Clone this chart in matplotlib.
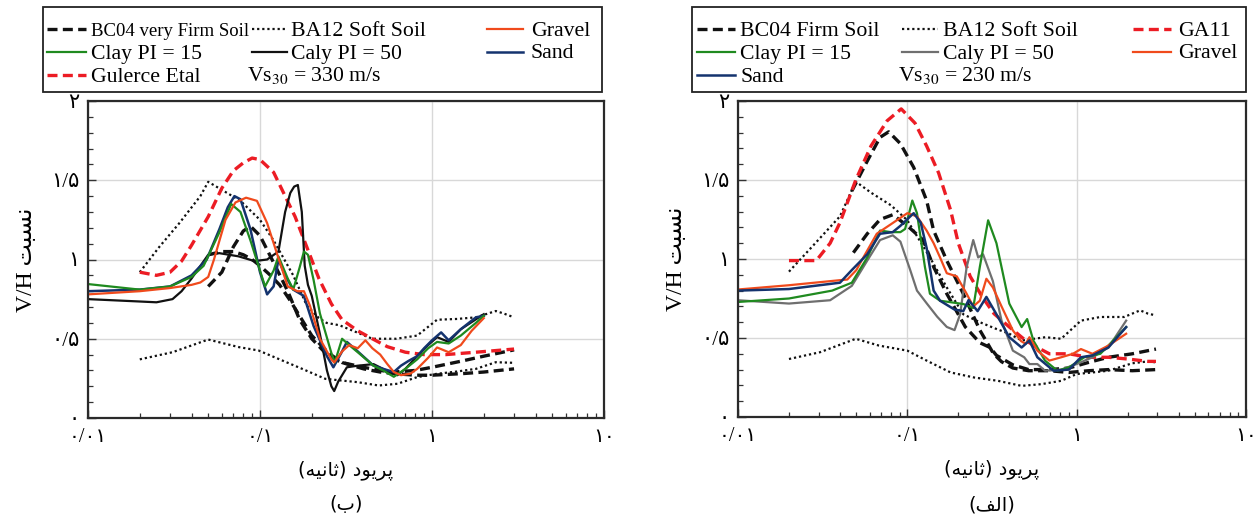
import re
import matplotlib
matplotlib.use("Agg")
import matplotlib.pyplot as plt
from matplotlib.lines import Line2D
from matplotlib.patches import Rectangle
from matplotlib.ticker import FixedLocator, FixedFormatter, LogLocator, NullFormatter, MultipleLocator

# ---------------- data : left panel (ب) Vs30 = 330 m/s ----------------
L_gul_T = [0.02, 0.025, 0.03, 0.035, 0.04, 0.05, 0.06, 0.07, 0.08, 0.09, 0.1, 0.12, 0.14, 0.16, 0.19, 0.22, 0.26, 0.3, 0.37, 0.45, 0.55, 0.7, 0.9, 1.2, 1.8, 3.0]
L_gul_V = [0.92, 0.90, 0.92, 0.99, 1.09, 1.27, 1.45, 1.56, 1.61, 1.64, 1.63, 1.55, 1.40, 1.27, 1.06, 0.88, 0.72, 0.62, 0.55, 0.50, 0.45, 0.415, 0.40, 0.40, 0.415, 0.435]

L_ba_hi_T = [0.02, 0.026, 0.034, 0.045, 0.05, 0.077, 0.1, 0.12, 0.156, 0.187, 0.22, 0.244, 0.29, 0.33, 0.45, 0.62, 0.82, 1.07, 1.4, 1.8, 2.35, 2.6, 3.0]
L_ba_hi_V = [0.92, 1.08, 1.23, 1.40, 1.49, 1.37, 1.25, 1.12, 0.90, 0.71, 0.63, 0.60, 0.585, 0.56, 0.50, 0.50, 0.52, 0.62, 0.625, 0.635, 0.675, 0.66, 0.635]
L_ba_lo_T = [0.02, 0.031, 0.05, 0.0755, 0.098, 0.128, 0.176, 0.24, 0.37, 0.49, 0.63, 0.82, 1.07, 1.39, 1.8, 2.35, 3.0]
L_ba_lo_V = [0.37, 0.415, 0.495, 0.447, 0.426, 0.373, 0.31, 0.247, 0.226, 0.205, 0.216, 0.258, 0.279, 0.293, 0.31, 0.352, 0.348]

L_bc_a_T = [0.05, 0.06, 0.07, 0.08, 0.088, 0.1, 0.12, 0.145, 0.17, 0.2, 0.25, 0.3, 0.4, 0.5, 0.6, 0.8, 1.0, 1.5, 2.0, 3.0]
L_bc_a_V = [0.83, 0.92, 1.08, 1.18, 1.21, 1.15, 0.98, 0.80, 0.62, 0.50, 0.39, 0.35, 0.32, 0.30, 0.29, 0.30, 0.32, 0.36, 0.39, 0.43]
L_bc_b_T = [0.05, 0.06, 0.07, 0.08, 0.09, 0.1, 0.115, 0.13, 0.15, 0.18, 0.2, 0.25, 0.3, 0.4, 0.5, 0.6, 0.8, 1.0, 1.5, 2.0, 3.0]
L_bc_b_V = [1.03, 1.05, 1.05, 1.03, 1.0, 0.96, 0.90, 0.84, 0.74, 0.60, 0.52, 0.41, 0.35, 0.31, 0.29, 0.28, 0.27, 0.27, 0.28, 0.29, 0.31]

L_grav_T = [0.01, 0.02, 0.03, 0.04, 0.045, 0.05, 0.054, 0.063, 0.072, 0.083, 0.096, 0.11, 0.127, 0.145, 0.165, 0.18, 0.195, 0.223, 0.26, 0.27, 0.3, 0.33, 0.37, 0.41, 0.45, 0.5, 0.55, 0.6, 0.66, 0.75, 0.82, 0.95, 1.07, 1.25, 1.47, 1.7, 2.0]
L_grav_V = [0.78, 0.80, 0.82, 0.84, 0.855, 0.89, 1.0, 1.25, 1.36, 1.39, 1.37, 1.23, 1.02, 0.83, 0.80, 0.80, 0.71, 0.50, 0.37, 0.35, 0.42, 0.46, 0.44, 0.49, 0.44, 0.40, 0.34, 0.29, 0.27, 0.28, 0.31, 0.38, 0.445, 0.415, 0.46, 0.55, 0.63]

L_sand_T = [0.01, 0.02, 0.03, 0.04, 0.049, 0.058, 0.065, 0.071, 0.077, 0.088, 0.1, 0.11, 0.12, 0.128, 0.14, 0.156, 0.18, 0.205, 0.245, 0.267, 0.3, 0.32, 0.37, 0.457, 0.52, 0.6, 0.66, 0.73, 0.82, 0.9, 1.0, 1.13, 1.25, 1.47, 1.8, 2.0]
L_sand_V = [0.80, 0.81, 0.83, 0.90, 1.0, 1.19, 1.33, 1.40, 1.38, 1.19, 0.92, 0.78, 0.83, 1.0, 0.90, 0.81, 0.77, 0.58, 0.39, 0.32, 0.42, 0.48, 0.42, 0.33, 0.31, 0.29, 0.33, 0.36, 0.39, 0.44, 0.49, 0.54, 0.49, 0.56, 0.635, 0.645]

L_clay15_T = [0.01, 0.02, 0.03, 0.04, 0.047, 0.058, 0.068, 0.077, 0.088, 0.1, 0.107, 0.12, 0.128, 0.145, 0.156, 0.17, 0.18, 0.19, 0.205, 0.223, 0.26, 0.272, 0.3, 0.33, 0.37, 0.457, 0.52, 0.6, 0.7, 0.82, 0.95, 1.07, 1.25, 1.47, 1.8, 2.0]
L_clay15_V = [0.845, 0.81, 0.83, 0.89, 0.96, 1.17, 1.35, 1.30, 1.12, 0.93, 0.83, 0.93, 1.02, 0.88, 0.81, 0.95, 1.05, 1.03, 0.87, 0.66, 0.41, 0.35, 0.50, 0.46, 0.415, 0.33, 0.30, 0.26, 0.31, 0.37, 0.44, 0.48, 0.47, 0.52, 0.60, 0.645]

L_clay50_T = [0.01, 0.02, 0.025, 0.031, 0.035, 0.04, 0.05, 0.058, 0.075, 0.093, 0.11, 0.128, 0.14, 0.15, 0.158, 0.166, 0.175, 0.182, 0.19, 0.2, 0.223, 0.245, 0.26, 0.27, 0.285, 0.32, 0.37, 0.457, 0.565, 0.63, 0.7, 0.82, 0.95, 1.07, 1.25, 1.47, 2.0]
L_clay50_V = [0.75, 0.735, 0.73, 0.75, 0.80, 0.88, 1.03, 1.04, 1.02, 0.99, 1.0, 1.05, 1.30, 1.42, 1.46, 1.47, 1.30, 0.96, 0.84, 0.77, 0.53, 0.30, 0.20, 0.17, 0.23, 0.32, 0.33, 0.34, 0.29, 0.27, 0.31, 0.39, 0.46, 0.51, 0.48, 0.56, 0.655]

# ---------------- data : right panel (الف) Vs30 = 230 m/s ----------------
R_ga_T = [0.02, 0.029, 0.035, 0.04, 0.0496, 0.061, 0.076, 0.092, 0.111, 0.13, 0.153, 0.18, 0.2, 0.235, 0.277, 0.325, 0.4, 0.5, 0.586, 0.69, 0.9, 1.18, 1.54, 2.0, 2.64, 2.94]
R_ga_V = [0.99, 0.99, 1.10, 1.23, 1.50, 1.715, 1.875, 1.95, 1.86, 1.715, 1.545, 1.31, 1.10, 0.89, 0.76, 0.654, 0.57, 0.484, 0.44, 0.40, 0.40, 0.378, 0.378, 0.367, 0.352, 0.352]

R_ba_hi_T = [0.02, 0.0275, 0.04, 0.0496, 0.061, 0.08, 0.1, 0.136, 0.171, 0.214, 0.268, 0.336, 0.40, 0.473, 0.653, 0.81, 1.06, 1.38, 1.91, 2.37, 2.64, 2.94]
R_ba_hi_V = [0.92, 1.08, 1.27, 1.49, 1.42, 1.34, 1.245, 1.01, 0.82, 0.65, 0.60, 0.557, 0.527, 0.484, 0.505, 0.495, 0.61, 0.633, 0.633, 0.675, 0.654, 0.643]
R_ba_lo_T = [0.02, 0.0305, 0.0496, 0.068, 0.1, 0.13, 0.18, 0.248, 0.343, 0.473, 0.62, 0.81, 1.0, 1.24, 1.54, 2.13, 2.64, 2.94]
R_ba_lo_V = [0.367, 0.41, 0.495, 0.452, 0.42, 0.357, 0.282, 0.25, 0.229, 0.197, 0.208, 0.229, 0.272, 0.282, 0.293, 0.34, 0.352, 0.346]

R_bc_a_T = [0.047, 0.058, 0.069, 0.0776, 0.091, 0.109, 0.13, 0.143, 0.171, 0.214, 0.268, 0.323, 0.36, 0.42, 0.52, 0.69, 0.9, 1.18, 1.54, 2.13, 2.94]
R_bc_a_V = [1.43, 1.62, 1.77, 1.805, 1.73, 1.58, 1.37, 1.18, 0.99, 0.78, 0.55, 0.40, 0.35, 0.31, 0.293, 0.293, 0.282, 0.293, 0.30, 0.293, 0.30]
R_bc_b_T = [0.048, 0.058, 0.069, 0.082, 0.1, 0.124, 0.143, 0.171, 0.22, 0.268, 0.308, 0.336, 0.42, 0.52, 0.69, 0.9, 1.18, 1.54, 2.13, 2.94]
R_bc_b_V = [1.04, 1.16, 1.25, 1.28, 1.21, 1.12, 0.95, 0.78, 0.57, 0.47, 0.44, 0.39, 0.33, 0.30, 0.30, 0.31, 0.346, 0.378, 0.40, 0.43]

R_grav_T = [0.01, 0.02, 0.04, 0.0442, 0.05, 0.055, 0.066, 0.08, 0.1, 0.114, 0.13, 0.143, 0.156, 0.171, 0.196, 0.224, 0.245, 0.268, 0.293, 0.32, 0.36, 0.42, 0.47, 0.5, 0.526, 0.586, 0.69, 0.81, 0.95, 1.06, 1.24, 1.54, 1.96]
R_grav_V = [0.807, 0.834, 0.866, 0.87, 0.93, 1.01, 1.16, 1.22, 1.29, 1.27, 1.18, 1.10, 1.01, 0.91, 0.89, 0.78, 0.70, 0.736, 0.875, 0.82, 0.70, 0.548, 0.48, 0.463, 0.505, 0.42, 0.357, 0.378, 0.40, 0.43, 0.40, 0.452, 0.527]

R_sand_T = [0.01, 0.02, 0.04, 0.047, 0.058, 0.069, 0.082, 0.091, 0.109, 0.12, 0.13, 0.143, 0.156, 0.19, 0.214, 0.23, 0.26, 0.293, 0.336, 0.40, 0.473, 0.526, 0.586, 0.73, 0.9, 1.06, 1.24, 1.54, 1.96]
R_sand_V = [0.80, 0.81, 0.85, 0.93, 1.03, 1.16, 1.17, 1.21, 1.29, 1.23, 1.07, 0.80, 0.736, 0.68, 0.67, 0.74, 0.67, 0.76, 0.65, 0.505, 0.44, 0.484, 0.378, 0.293, 0.30, 0.378, 0.39, 0.44, 0.569]

R_clay15_T = [0.01, 0.02, 0.036, 0.047, 0.058, 0.069, 0.08, 0.091, 0.097, 0.107, 0.114, 0.127, 0.136, 0.156, 0.214, 0.245, 0.268, 0.3, 0.336, 0.40, 0.473, 0.51, 0.555, 0.65, 0.77, 0.9, 1.11, 1.38, 1.96]
R_clay15_V = [0.728, 0.75, 0.80, 0.85, 1.01, 1.18, 1.17, 1.17, 1.19, 1.37, 1.29, 0.95, 0.78, 0.736, 0.715, 0.69, 0.95, 1.245, 1.10, 0.718, 0.569, 0.62, 0.484, 0.357, 0.293, 0.314, 0.378, 0.40, 0.569]

R_clay50_T = [0.01, 0.02, 0.035, 0.047, 0.058, 0.069, 0.082, 0.091, 0.104, 0.114, 0.13, 0.15, 0.171, 0.19, 0.205, 0.224, 0.245, 0.262, 0.28, 0.32, 0.36, 0.42, 0.49, 0.526, 0.586, 0.65, 0.81, 1.0, 1.24, 1.54, 1.96]
R_clay50_V = [0.739, 0.718, 0.739, 0.83, 0.99, 1.12, 1.15, 1.11, 0.93, 0.80, 0.72, 0.635, 0.57, 0.55, 0.65, 0.948, 1.12, 1.01, 1.03, 0.86, 0.61, 0.42, 0.378, 0.335, 0.335, 0.293, 0.30, 0.335, 0.378, 0.44, 0.61]

# ---------------- labels ----------------
x_ticks = [0.01, 0.1, 1, 10]
x_tick_labels = ["۰/۰۱", "۰/۱", "۱", "۱۰"]
y_ticks = [0, 0.5, 1, 1.5, 2]
y_tick_labels = ["۰", "۰/۵", "۱", "۱/۵", "۲"]
x_label = "پریود (ثانیه)"
y_label = "نسبت V/H"
panel_titles = ["(ب)", "(الف)"]
left_legend_labels = [['BC04 very Firm Soil', 'BA12 Soft Soil', 'Gravel'],
                      ['Clay PI = 15', 'Caly PI = 50', 'Sand'],
                      ['Gulerce Etal', 'Vs$_{30}$ = 330 m/s', None]]
right_legend_labels = [['BC04 Firm Soil', 'BA12 Soft Soil', 'GA11'],
                       ['Clay PI = 15', 'Caly PI = 50', 'Gravel'],
                       ['Sand', 'Vs$_{30}$ = 230 m/s', None]]

# ---------------- simple Persian shaping for display ----------------
FORMS = {
    'ا': ('\uFE8D', '\uFE8E', None, None),
    'ب': ('\uFE8F', '\uFE90', '\uFE91', '\uFE92'),
    'پ': ('\uFB56', '\uFB57', '\uFB58', '\uFB59'),
    'ت': ('\uFE95', '\uFE96', '\uFE97', '\uFE98'),
    'ث': ('\uFE99', '\uFE9A', '\uFE9B', '\uFE9C'),
    'د': ('\uFEA9', '\uFEAA', None, None),
    'ر': ('\uFEAD', '\uFEAE', None, None),
    'س': ('\uFEB1', '\uFEB2', '\uFEB3', '\uFEB4'),
    'ف': ('\uFED1', '\uFED2', '\uFED3', '\uFED4'),
    'ل': ('\uFEDD', '\uFEDE', '\uFEDF', '\uFEE0'),
    'ن': ('\uFEE5', '\uFEE6', '\uFEE7', '\uFEE8'),
    'ه': ('\uFEE9', '\uFEEA', '\uFEEB', '\uFEEC'),
    'و': ('\uFEED', '\uFEEE', None, None),
    'ی': ('\uFBFC', '\uFBFD', '\uFBFE', '\uFBFF'),
}


def shape_word(w):
    out = []
    for i, c in enumerate(w):
        f = FORMS.get(c)
        if f is None:
            out.append(c)
            continue
        prev = w[i - 1] if i > 0 else None
        nxt = w[i + 1] if i < len(w) - 1 else None
        jp = prev in FORMS and FORMS[prev][2] is not None
        jn = nxt in FORMS and f[2] is not None
        if jp and jn:
            out.append(f[3])
        elif jp:
            out.append(f[1])
        elif jn:
            out.append(f[2])
        else:
            out.append(f[0])
    return ''.join(out)


def rtl(text):
    tokens = re.findall(r'[\u0600-\u06FF]+|\s+|[()]|[^\s()\u0600-\u06FF]+', text)
    vis = []
    for t in reversed(tokens):
        if re.match(r'[\u0600-\u06FF]', t):
            vis.append(shape_word(t)[::-1])
        elif t == '(':
            vis.append(')')
        elif t == ')':
            vis.append('(')
        else:
            vis.append(t)
    return ''.join(vis)


plt.rcParams['font.family'] = ['DejaVu Sans']
plt.rcParams['mathtext.fontset'] = 'stix'

W, H = 1258, 523
fig = plt.figure(figsize=(W / 100, H / 100), dpi=100)

C_RED = '#ec1c24'
C_ORANGE = '#f04a1c'
C_GREEN = '#1f8a1f'
C_BLUE = '#14336e'
C_BLACK = '#111111'
C_GRAY = '#6f6f6f'
DASH = (0, (3.0, 1.6))
DOT = (0, (1.0, 1.3))
SERIF_FA = ['Liberation Serif', 'DejaVu Sans']


def setup_axes(ax, title):
    ax.set_xscale('log')
    ax.set_xlim(0.01, 10)
    ax.set_ylim(0, 2)
    ax.xaxis.set_major_locator(FixedLocator(x_ticks))
    ax.xaxis.set_major_formatter(FixedFormatter(x_tick_labels))
    ax.xaxis.set_minor_locator(LogLocator(base=10, subs=range(2, 10)))
    ax.xaxis.set_minor_formatter(NullFormatter())
    ax.yaxis.set_major_locator(FixedLocator(y_ticks))
    ax.yaxis.set_major_formatter(FixedFormatter(y_tick_labels))
    ax.yaxis.set_minor_locator(MultipleLocator(0.1))
    ax.tick_params(which='both', direction='in', top=False, right=False, color='#333333')
    ax.tick_params(which='major', length=6, width=1.0, pad=6)
    ax.tick_params(axis='y', which='major', labelsize=15)
    ax.tick_params(axis='x', which='major', labelsize=14.5, pad=7)
    ax.tick_params(which='minor', length=3.5, width=0.9)
    for lab in ax.get_xticklabels() + ax.get_yticklabels():
        lab.set_family(SERIF_FA)
    ax.grid(True, which='major', color='#d8d8d8', lw=1.0)
    ax.set_axisbelow(True)
    for s in ax.spines.values():
        s.set_linewidth(1.6)
        s.set_color('#2a2a2a')
    ax.set_xlabel(rtl(x_label), fontsize=14, labelpad=10)
    ax.set_ylabel(rtl(y_label), fontsize=17, labelpad=10, family=SERIF_FA)
    bb = ax.get_position()
    fig.text(bb.x0 + bb.width / 2, 0.035, rtl(title), ha='center', va='center', fontsize=14)


def legend_line(h, x0, x1, y):
    ln = Line2D([x0 / W, x1 / W], [1 - y / H, 1 - y / H])
    ln.update_from(h)
    ln.set_transform(fig.transFigure)
    ln.set_clip_box(None)
    ln.set_clip_path(None)
    ln.set_clip_on(False)
    fig.add_artist(ln)


def draw_legend(box, rows_y, handle_x, text_x, handles, labels, free_text_x, sizes):
    """Framed three-column legend laid out in pixels (box = x0, y0, x1, y1 from top-left)."""
    x0, y0, x1, y1 = box
    fig.add_artist(Rectangle((x0 / W, 1 - y1 / H), (x1 - x0) / W, (y1 - y0) / H,
                             transform=fig.transFigure, fill=False, ec='#222222', lw=1.3))
    for r, ry in enumerate(rows_y):
        for c in range(3):
            lab = labels[r][c]
            if lab is None:
                continue
            h = handles[r][c]
            if h is None:
                tx = free_text_x
            else:
                legend_line(h, handle_x[c][0], handle_x[c][1], ry)
                tx = text_x[c]
            fig.text(tx / W, 1 - (ry + 6.5) / H, lab, ha='left', va='baseline',
                     family='Liberation Serif', fontsize=sizes[r][c])


# ---------------- left panel ----------------
axL = fig.add_axes([88 / W, (H - 418) / H, 516 / W, 317 / H])
h_bc, = axL.plot(L_bc_a_T, L_bc_a_V, color=C_BLACK, lw=2.4, ls=DASH)
axL.plot(L_bc_b_T, L_bc_b_V, color=C_BLACK, lw=2.4, ls=DASH)
h_ba, = axL.plot(L_ba_hi_T, L_ba_hi_V, color=C_BLACK, lw=1.6, ls=DOT)
axL.plot(L_ba_lo_T, L_ba_lo_V, color=C_BLACK, lw=1.6, ls=DOT)
h_gul, = axL.plot(L_gul_T, L_gul_V, color=C_RED, lw=2.4, ls=DASH)
h_c50, = axL.plot(L_clay50_T, L_clay50_V, color=C_BLACK, lw=1.6)
h_sand, = axL.plot(L_sand_T, L_sand_V, color=C_BLUE, lw=1.8)
h_c15, = axL.plot(L_clay15_T, L_clay15_V, color=C_GREEN, lw=1.6)
h_grav, = axL.plot(L_grav_T, L_grav_V, color=C_ORANGE, lw=1.6)
setup_axes(axL, panel_titles[0])

draw_legend((43, 7, 602, 92), [29, 52, 75],
            [(47, 86), (252, 287), (487, 523)], [91, 291, 531],
            [[h_bc, h_ba, h_grav], [h_c15, h_c50, h_sand], [h_gul, None, None]],
            left_legend_labels, 247,
            [[13.5, 15.7, 15.7], [15.7, 15.7, 15.7], [15.7, 15.7, 15.7]])

# ---------------- right panel ----------------
axR = fig.add_axes([738 / W, (H - 417) / H, 508 / W, 316 / H])
hr_bc, = axR.plot(R_bc_a_T, R_bc_a_V, color=C_BLACK, lw=2.4, ls=DASH)
axR.plot(R_bc_b_T, R_bc_b_V, color=C_BLACK, lw=2.4, ls=DASH)
hr_ba, = axR.plot(R_ba_hi_T, R_ba_hi_V, color=C_BLACK, lw=1.6, ls=DOT)
axR.plot(R_ba_lo_T, R_ba_lo_V, color=C_BLACK, lw=1.6, ls=DOT)
hr_ga, = axR.plot(R_ga_T, R_ga_V, color=C_RED, lw=2.4, ls=DASH)
hr_c50, = axR.plot(R_clay50_T, R_clay50_V, color=C_GRAY, lw=1.6)
hr_c15, = axR.plot(R_clay15_T, R_clay15_V, color=C_GREEN, lw=1.6)
hr_grav, = axR.plot(R_grav_T, R_grav_V, color=C_ORANGE, lw=1.6)
hr_sand, = axR.plot(R_sand_T, R_sand_V, color=C_BLUE, lw=1.8)
setup_axes(axR, panel_titles[1])

draw_legend((692, 7, 1246, 92), [29, 52, 75],
            [(697, 735), (902, 938), (1133, 1171)], [740, 943, 1178],
            [[hr_bc, hr_ba, hr_ga], [hr_c15, hr_c50, hr_grav], [hr_sand, None, None]],
            right_legend_labels, 898,
            [[15.7, 15.7, 15.7], [15.7, 15.7, 15.7], [15.7, 15.7, 15.7]])

fig.savefig('out.png', dpi=100)
